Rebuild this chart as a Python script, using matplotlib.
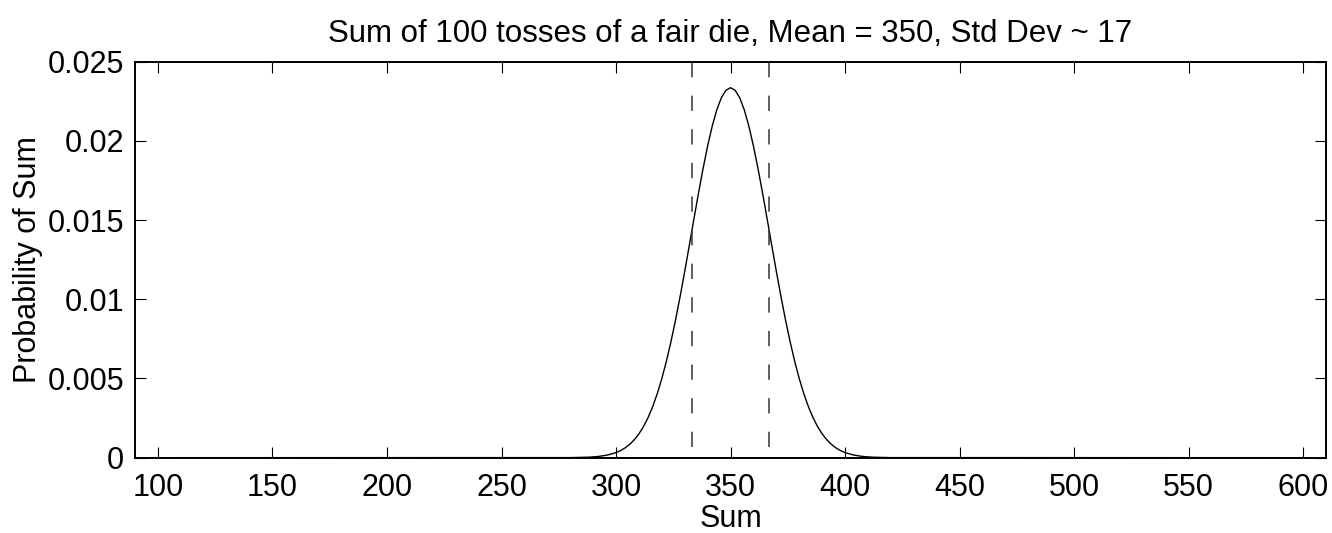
import matplotlib
matplotlib.use("Agg")
import matplotlib.pyplot as plt

plt.rcParams['font.family'] = ['Liberation Sans', 'DejaVu Sans']

# Sum values and probabilities
sums = [100, 280, 288, 292, 296, 300, 302, 304, 306, 308, 310, 312, 314, 316, 318,
        320, 322, 324, 326, 328, 330, 332, 334, 336, 338, 340, 342, 344, 346, 348,
        350, 352, 354, 356, 358, 360, 362, 364, 366, 368, 370, 372, 374, 376, 378,
        380, 382, 384, 386, 388, 390, 392, 394, 396, 398, 400, 404, 408, 412, 420, 600]
probs = [0.0, 0.0000053, 0.0000321, 0.0000731, 0.000158, 0.000321, 0.000450, 0.000621,
         0.000846, 0.001136, 0.001504, 0.001965, 0.002533, 0.003220, 0.004038,
         0.004993, 0.006092, 0.007331, 0.008703, 0.010189, 0.011767, 0.013404,
         0.015062, 0.016694, 0.018251, 0.019680, 0.020933, 0.021962, 0.022728,
         0.023200, 0.023360, 0.023200, 0.022728, 0.021962, 0.020933, 0.019680,
         0.018251, 0.016694, 0.015062, 0.013404, 0.011767, 0.010189, 0.008703,
         0.007331, 0.006092, 0.004993, 0.004038, 0.003220, 0.002533, 0.001965,
         0.001504, 0.001136, 0.000846, 0.000621, 0.000450, 0.000321, 0.000158,
         0.0000731, 0.0000321, 0.0000053, 0.0]

std_lines = [333, 367]
xticks = [100, 150, 200, 250, 300, 350, 400, 450, 500, 550, 600]
yticks = [0, 0.005, 0.01, 0.015, 0.02, 0.025]
ytick_labels = ['0', '0.005', '0.01', '0.015', '0.02', '0.025']

fig = plt.figure(figsize=(13.32, 5.33), dpi=100)
ax = fig.add_axes([0.1014, 0.1413, 0.8941, 0.7429])

ax.plot(sums, probs, color='black', lw=1.0)
for xv in std_lines:
    ax.plot([xv, xv], [0.025, 0], color='#333333', lw=1.1, dashes=(10, 12))

ax.set_xlim(90, 610)
ax.set_ylim(0, 0.025)
ax.set_xticks(xticks)
ax.set_yticks(yticks)
ax.set_yticklabels(ytick_labels)
ax.tick_params(direction='in', length=8, width=0.8, top=True, right=True,
               labelsize=22, pad=8)
ax.tick_params(axis='x', pad=11)
for s in ax.spines.values():
    s.set_linewidth(1.4)

ax.set_title('Sum of 100 tosses of a fair die, Mean = 350, Std Dev ~ 17', fontsize=22.5, pad=14)
ax.set_xlabel('Sum', fontsize=22, labelpad=1)
ax.set_ylabel('Probability of Sum', fontsize=22, labelpad=3)

fig.savefig('out.png', dpi=100)
